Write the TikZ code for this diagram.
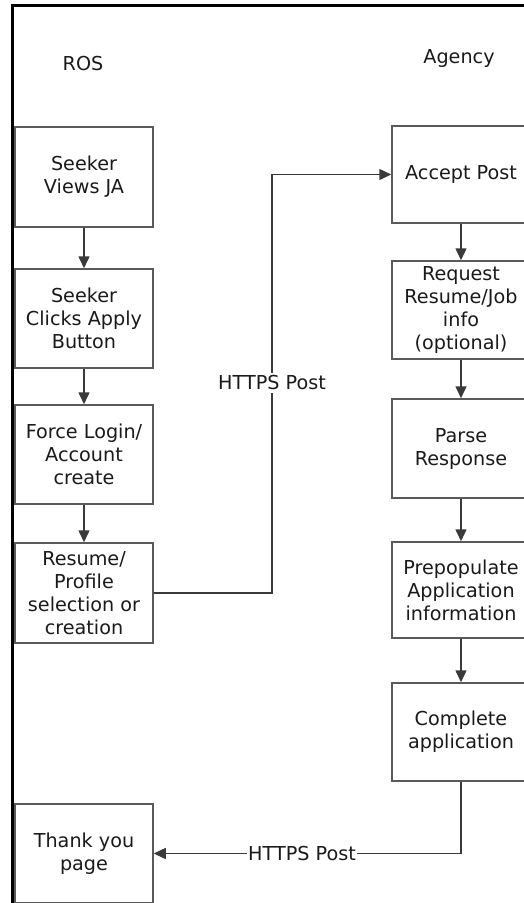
\documentclass[tikz,border=0pt]{standalone}
\usepackage{fontspec}
\setmainfont{DejaVu Sans}
\usetikzlibrary{arrows.meta}
\definecolor{boxline}{HTML}{5A5A5A}
\definecolor{linec}{HTML}{3A3A3A}
\definecolor{txt}{HTML}{1A1A1A}
\tikzset{
  stepbox/.style={draw=boxline, line width=1.5pt, minimum width=138pt, align=center, inner sep=2pt, text=txt,
    font=\fontsize{19.2pt}{23pt}\selectfont},
  flow/.style={draw=linec, line width=1.5pt, -{Triangle[length=12pt,width=11pt]}},
  lbl/.style={text=txt, font=\fontsize{19.2pt}{23pt}\selectfont},
  frameline/.style={draw=black, line width=3pt}
}
\begin{document}
\begin{tikzpicture}[x=1pt,y=-1pt]
\useasboundingbox (0,0) rectangle (524,903);
\clip (0,0) rectangle (524,903);
\fill[white] (0,0) rectangle (524,903);
\draw[frameline] (12,903) -- (12,5) -- (530,5);

\node[lbl, anchor=base] (ros) at (83,70) {ROS};
\node[lbl, anchor=base] (agency) at (459,63) {Agency};

% left column
\node[stepbox, minimum height=100pt] (s1) at (84,177) {Seeker\\Views JA};
\node[stepbox, minimum height=99pt] (s2) at (84,318.5) {Seeker\\Clicks Apply\\Button};
\node[stepbox, minimum height=99pt] (s3) at (84,454.5) {Force Login/\\Account\\create};
\node[stepbox, minimum height=100pt] (s4) at (84,593) {Resume/\\Profile\\selection or\\creation};
\node[stepbox, minimum height=99pt] (ty) at (84,853.5) {Thank you\\page};

% right column
\node[stepbox, minimum height=97pt] (a1) at (461,174.5) {Accept Post};
\node[stepbox, minimum height=98pt] (a2) at (461,310) {Request\\Resume/Job\\info\\(optional)};
\node[stepbox, minimum height=99pt] (a3) at (461,448.5) {Parse\\Response};
\node[stepbox, minimum height=96pt] (a4) at (461,590) {Prepopulate\\Application\\information};
\node[stepbox, minimum height=98pt] (a5) at (461,732) {Complete\\application};

% vertical flows
\draw[flow] (s1) -- (s2);
\draw[flow] (s2) -- (s3);
\draw[flow] (s3) -- (s4);
\draw[flow] (a1) -- (a2);
\draw[flow] (a2) -- (a3);
\draw[flow] (a3) -- (a4);
\draw[flow] (a4) -- (a5);

% HTTPS post up
\coordinate (c1) at (272,593);
\draw[flow] (s4.east) -- (c1) |- (a1.west);
\node[lbl, fill=white, inner sep=3pt] (h1) at (272,383) {HTTPS Post};

% HTTPS post back
\coordinate (c2) at (461,853.5);
\draw[flow] (a5.south) -- (c2) -- (ty.east);
\node[lbl, fill=white, inner sep=1pt] (h2) at (302,853.5) {HTTPS Post};
\end{tikzpicture}
\end{document}
